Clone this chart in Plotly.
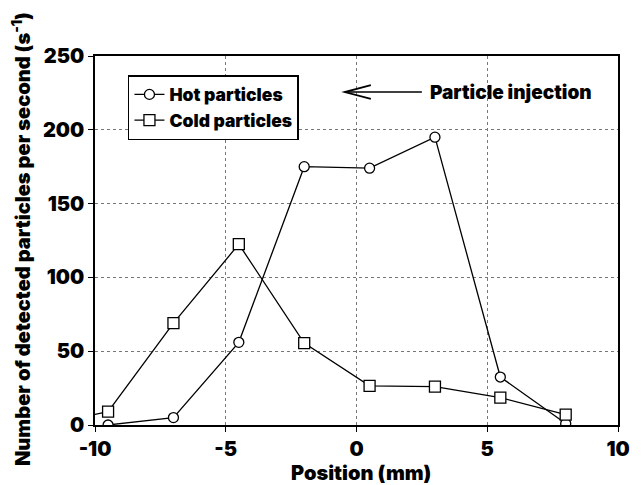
import plotly.graph_objects as go

# Particle counts versus position across the injection zone
position_mm = [-9.5, -7, -4.5, -2, 0.5, 3, 5.5, 8]
hot_rate = [0, 5, 56, 175, 174, 195, 32.5, 1]

cold_position_mm = [-12, -9.5, -7, -4.5, -2, 0.5, 3, 5.5, 8]
cold_rate = [0, 9, 69, 122.5, 55.5, 26.5, 26, 18.5, 7]

x_ticks = [-10, -5, 0, 5, 10]
x_tick_text = ["-10", "-5", "0", "5", "10"]
y_ticks = [0, 50, 100, 150, 200, 250]

FONT = "Inter"
WEIGHT = 900

fig = go.Figure()

fig.add_trace(go.Scatter(
    x=position_mm, y=hot_rate, name="Hot particles",
    mode="lines+markers",
    line=dict(color="black", width=1.3),
    marker=dict(symbol="circle", size=10, color="white",
                line=dict(color="black", width=1.3)),
))
fig.add_trace(go.Scatter(
    x=cold_position_mm, y=cold_rate, name="Cold particles",
    mode="lines+markers",
    line=dict(color="black", width=1.3),
    marker=dict(symbol="square", size=11, color="white",
                line=dict(color="black", width=1.3)),
))

axis_common = dict(
    showline=True, linecolor="black", linewidth=1.5, mirror=True,
    ticks="outside", ticklen=5, tickcolor="black", tickwidth=1.3,
    showgrid=True, gridcolor="#777777", griddash="dot", gridwidth=1,
    zeroline=False,
    tickfont=dict(family=FONT, size=20, color="black", weight=WEIGHT),
)

fig.update_xaxes(range=[-10, 10], tickvals=x_ticks, ticktext=x_tick_text, **axis_common)
fig.update_yaxes(range=[0, 250], tickvals=y_ticks, **axis_common)

# Arrow pointing toward the injection side
arrow_y = 225.6
fig.add_shape(type="line", xref="x", yref="y",
              x0=2.5, y0=arrow_y, x1=-0.45, y1=arrow_y,
              line=dict(color="black", width=1.5))
fig.add_shape(type="path", xref="x", yref="y",
              path=f"M 0.55,{arrow_y + 4.7} L -0.45,{arrow_y} L 0.55,{arrow_y - 4.7}",
              line=dict(color="black", width=1.8))

fig.add_annotation(
    x=2.73, y=arrow_y, xref="x", yref="y", xanchor="left", yanchor="middle",
    text="Particle injection", showarrow=False,
    font=dict(family=FONT, size=19, color="black", weight=WEIGHT),
)

# Axis titles
fig.add_annotation(
    x=0.508, y=-0.13, xref="paper", yref="paper", xanchor="center", yanchor="middle",
    text="Position (mm)", showarrow=False,
    font=dict(family=FONT, size=20, color="black", weight=WEIGHT),
)
fig.add_annotation(
    x=-0.1415, y=0.504, xref="paper", yref="paper", xanchor="center", yanchor="middle",
    text="Number of detected particles per second (s<sup>-1</sup>)", textangle=-90,
    showarrow=False,
    font=dict(family=FONT, size=20, color="black", weight=WEIGHT),
)

fig.update_layout(
    width=644, height=485,
    margin=dict(l=95, r=26, t=56, b=60),
    paper_bgcolor="white", plot_bgcolor="white",
    showlegend=True,
    legend=dict(
        x=0.063, y=0.9485, xanchor="left", yanchor="top",
        bgcolor="white", bordercolor="black", borderwidth=1.5,
        font=dict(family=FONT, size=17.5, color="black", weight=WEIGHT),
        itemwidth=30, tracegroupgap=0,
    ),
)

fig.write_html("out.html")
